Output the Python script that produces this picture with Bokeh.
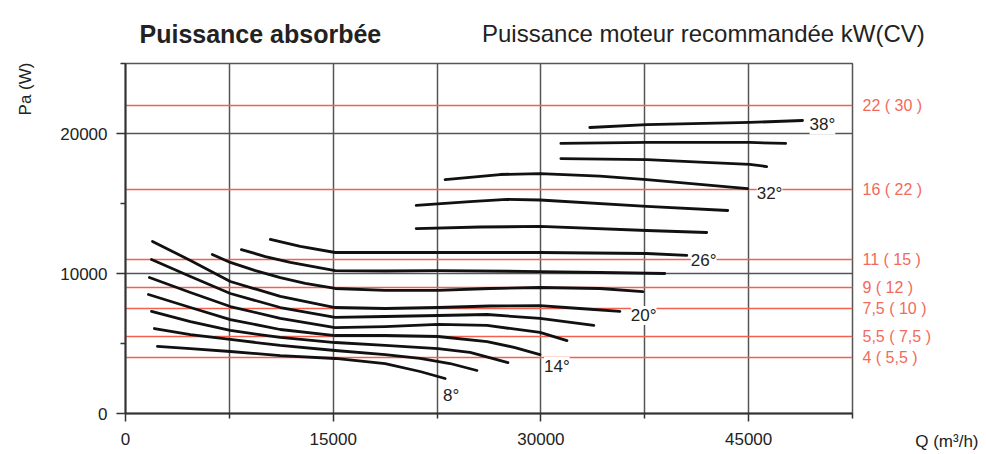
import math
from bokeh.plotting import figure
from bokeh.models import Range1d, FixedTicker, LinearAxis, Label, LabelSet, ColumnDataSource, Title
from bokeh.core.properties import value
from bokeh.embed import file_html
from bokeh.resources import INLINE

# ---------------- data ----------------
x_ticks = [0, 15000, 30000, 45000]
x_minor = [7500, 22500, 37500, 52500]
x_grid = [7500, 15000, 22500, 30000, 37500, 45000, 52500]
y_ticks = [0, 10000, 20000]
y_minor = [5000, 15000, 25000]
y_grid = [10000, 20000, 25000]

motor_levels = [4000, 5500, 7500, 9000, 11000, 16000, 22000]
motor_labels = ["4 ( 5,5 )", "5,5 ( 7,5 )", "7,5 ( 10 )", "9 ( 12 )",
                "11 ( 15 )", "16 ( 22 )", "22 ( 30 )"]

c1_x = [2310, 4690, 7570, 11180, 15140, 18750, 21270, 23080]
c1_y = [4790, 4640, 4430, 4140, 3930, 3570, 3000, 2500]
c2_x = [2090, 4690, 7570, 11180, 15140, 18750, 21270, 23440, 25380]
c2_y = [6070, 5640, 5290, 4860, 4500, 4210, 3930, 3570, 3070]
c3_x = [1880, 4690, 7570, 11180, 15140, 18750, 22570, 24880, 27620]
c3_y = [7290, 6570, 5930, 5430, 5070, 4860, 4640, 4360, 3640]
c4_x = [1660, 4690, 7570, 11180, 15140, 18750, 22570, 26110, 28130, 29930]
c4_y = [8500, 7570, 6710, 6000, 5570, 5570, 5500, 5140, 4710, 4210]
c5_x = [1730, 4690, 7570, 11180, 15140, 18750, 22570, 26110, 29930, 31880]
c5_y = [9710, 8640, 7640, 6790, 6140, 6210, 6360, 6290, 5790, 5210]
c6_x = [1880, 4690, 7570, 11180, 15140, 18750, 22570, 26110, 29930, 33820]
c6_y = [11000, 9790, 8570, 7570, 6860, 6930, 7000, 7070, 6790, 6290]
c7_x = [1950, 4690, 7570, 11180, 15140, 18750, 22570, 26320, 29930, 32810, 35700]
c7_y = [12290, 10930, 9430, 8360, 7570, 7500, 7570, 7680, 7710, 7500, 7290]
c8_x = [6270, 7570, 9380, 11180, 12980, 15140, 18750, 22570, 26320, 29930, 34250, 37360]
c8_y = [11360, 10790, 10210, 9710, 9290, 8930, 8790, 8790, 8930, 9000, 8930, 8710]
c9_x = [8370, 10100, 11900, 15140, 18750, 22570, 29930, 34250, 38940]
c9_y = [11710, 11210, 10790, 10210, 10180, 10210, 10140, 10070, 10000]
c10_x = [10460, 12620, 15140, 18750, 22570, 29930, 37640, 40530]
c10_y = [12430, 11930, 11500, 11500, 11500, 11500, 11430, 11290]
c11_x = [20990, 25600, 29930, 37640, 41970]
c11_y = [13210, 13320, 13360, 13070, 12930]
c12_x = [20990, 24880, 27550, 29930, 37640, 43490]
c12_y = [14860, 15140, 15290, 15250, 14790, 14500]
c13_x = [23080, 27040, 29930, 34250, 37640, 41470, 44930]
c13_y = [16710, 17070, 17140, 16960, 16710, 16360, 16070]
c14_x = [31440, 37640, 41470, 45070, 46300]
c14_y = [18210, 18140, 17960, 17790, 17640]
c15_x = [31440, 37640, 45070, 47670]
c15_y = [19290, 19360, 19360, 19290]
c16_x = [33530, 37640, 45070, 48890]
c16_y = [20430, 20640, 20790, 20930]

curves_x = [c1_x, c2_x, c3_x, c4_x, c5_x, c6_x, c7_x, c8_x,
            c9_x, c10_x, c11_x, c12_x, c13_x, c14_x, c15_x, c16_x]
curves_y = [c1_y, c2_y, c3_y, c4_y, c5_y, c6_y, c7_y, c8_y,
            c9_y, c10_y, c11_y, c12_y, c13_y, c14_y, c15_y, c16_y]

angle_text = ["8°", "14°", "20°", "26°", "32°", "38°"]
angle_x = [22930, 30220, 36490, 40820, 45580, 49400]
angle_y = [1290, 3360, 7000, 10960, 15710, 20610]

FONT = "Liberation Sans"
RED_LINE = "#f2604f"
RED_TEXT = "#f26a5c"
GRID = "#555555"
INK = "#222222"

p = figure(frame_width=727, frame_height=350,
           min_border_left=125, min_border_right=134,
           min_border_top=63, min_border_bottom=41,
           x_range=Range1d(0, 52500), y_range=Range1d(0, 25000),
           output_backend="svg", toolbar_location=None,
           background_fill_color="white", border_fill_color="white")
p.outline_line_color = GRID
p.outline_line_width = 1.5

# grids
p.xgrid.ticker = FixedTicker(ticks=x_grid)
p.ygrid.ticker = FixedTicker(ticks=y_grid)
for g in (p.xgrid, p.ygrid):
    g.grid_line_color = GRID
    g.grid_line_width = 1.5

# axes
p.xaxis.ticker = FixedTicker(ticks=x_ticks, minor_ticks=x_minor)
p.yaxis.ticker = FixedTicker(ticks=y_ticks, minor_ticks=y_minor)
for ax in (p.xaxis, p.yaxis):
    ax.axis_line_color = "#333333"
    ax.axis_line_width = 2
    ax.major_tick_line_color = "#333333"
    ax.minor_tick_line_color = "#333333"
    ax.major_tick_line_width = 1.5
    ax.minor_tick_line_width = 1.5
    ax.major_tick_in = 0
    ax.minor_tick_in = 0
    ax.major_label_text_font = FONT
    ax.major_label_text_font_size = "17px"
    ax.major_label_text_color = INK
p.xaxis.major_tick_out = 8
p.xaxis.minor_tick_out = 5
p.xaxis.major_label_standoff = 11
p.yaxis.major_tick_out = 9
p.yaxis.minor_tick_out = 5
p.yaxis.major_label_standoff = 9

right = LinearAxis(ticker=FixedTicker(ticks=motor_levels),
                   major_label_overrides={v: t for v, t in zip(motor_levels, motor_labels)})
right.axis_line_color = None
right.major_tick_line_color = None
right.minor_tick_line_color = None
right.major_tick_out = 0
right.major_label_standoff = 10
right.major_label_text_font = FONT
right.major_label_text_font_size = "16px"
right.major_label_text_color = RED_TEXT
p.add_layout(right, "right")

# recommended motor power lines
p.hspan(y=motor_levels, line_color=RED_LINE, line_width=1.5)

# absorbed power curves
for xs, ys in zip(curves_x, curves_y):
    p.line(xs, ys, line_color="#111111", line_width=2.8, line_cap="round", line_join="round")

src = ColumnDataSource(dict(x=angle_x, y=angle_y, t=angle_text))
p.add_layout(LabelSet(x="x", y="y", text="t", source=src,
                      text_font=value(FONT), text_font_size=value("17px"), text_color=INK,
                      text_align="left", text_baseline="middle",
                      background_fill_color="white"))

# titles and axis names (placed in side panels so they are not clipped)
p.add_layout(Label(x=1010, y=27140, text="Puissance absorbée", text_font=FONT,
                   text_font_size="25px", text_font_style="bold", text_color=INK,
                   text_baseline="alphabetic"), "above")
p.add_layout(Label(x=25745, y=27140, text="Puissance moteur recommandée kW(CV)",
                   text_font=FONT, text_font_size="24px", text_color=INK,
                   text_baseline="alphabetic"), "above")
p.add_layout(Label(x=-7210, y=25070, text="Pa (W)", angle=math.pi / 2,
                   text_font=FONT, text_font_size="17px", text_color=INK,
                   text_align="right", text_baseline="middle"), "left")
p.add_layout(Title(text="Q (m³/h)", align="right", offset=-126, vertical_align="top",
                   standoff=-32, text_font=FONT, text_font_size="17px",
                   text_font_style="normal", text_color=INK), "below")

open("out.html", "w").write(file_html(p, INLINE))
